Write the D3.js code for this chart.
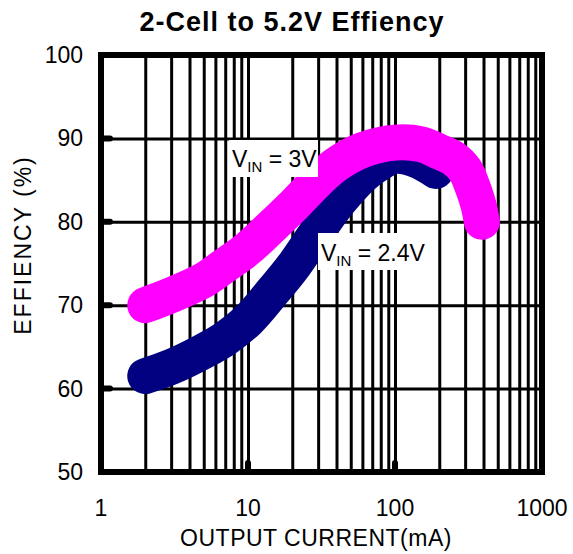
<!DOCTYPE html>
<html><head><meta charset="utf-8">
<script src="https://cdn.jsdelivr.net/npm/d3@7"></script>
<style>body{margin:0;background:#fff} svg{display:block}</style>
</head><body><svg id="c" width="573" height="554"></svg>
<script>
// ---- data ----
const xTicks = [1, 10, 100, 1000];
const yTicks = [50, 60, 70, 80, 90, 100];
const current3V = [2, 3, 5, 7, 10, 15, 20, 30, 40, 60, 100, 150, 200, 250, 300, 340, 370, 390];
const eff3V     = [70, 71.2, 73, 74.8, 76.8, 79.7, 81.8, 85, 86.9, 88.6, 89.5, 89.3, 88.4, 87.6, 86.2, 84, 82, 80];
const current24V = [2, 3, 5, 7, 10, 15, 20, 30, 42, 60, 75, 100, 140, 190];
const eff24V     = [61.5, 62.6, 64.5, 66, 68.2, 71.8, 74.5, 79, 82.5, 85.5, 86.8, 87.9, 87.4, 86.1];
const titleText = "2-Cell to 5.2V Effiency";
const xLabel = "OUTPUT CURRENT(mA)";
const yLabel = "EFFIENCY (%)";

const svg = d3.select("#c");
const L = 101, R = 542, T = 55, B = 472;
const x = d3.scaleLog().domain([1, 1000]).range([L, R]);
const y = d3.scaleLinear().domain([50, 100]).range([B, T]);
const font = "'Liberation Sans', Arial, Helvetica, sans-serif";

// grid (vertical minor log lines)
const gx = svg.append("g").attr("transform", `translate(0,${B})`)
  .call(d3.axisBottom(x).tickValues(x.ticks().filter(v => v > 1 && v < 1000))
    .tickSize(-(B - T)).tickFormat(""));
gx.select(".domain").remove();
gx.selectAll("line").attr("stroke", "#000").attr("stroke-width", 3);

const gy = svg.append("g").attr("transform", `translate(${L},0)`)
  .call(d3.axisLeft(y).tickValues(yTicks.filter(v => v > 50 && v < 100))
    .tickSize(-(R - L)).tickFormat(""));
gy.select(".domain").remove();
gy.selectAll("line").attr("stroke", "#000").attr("stroke-width", 3);

// inner tick stubs
svg.append("g").selectAll("line").data(yTicks.filter(v => v > 50 && v < 100)).join("line")
  .attr("x1", L).attr("x2", L + 9).attr("y1", d => y(d)).attr("y2", d => y(d))
  .attr("stroke", "#000").attr("stroke-width", 6).attr("stroke-linecap", "round");
svg.append("g").selectAll("line").data(xTicks.filter(v => v > 1 && v < 1000)).join("line")
  .attr("x1", d => x(d)).attr("x2", d => x(d)).attr("y1", B).attr("y2", B - 9)
  .attr("stroke", "#000").attr("stroke-width", 6).attr("stroke-linecap", "round");

// frame
svg.append("rect").attr("x", L).attr("y", T).attr("width", R - L).attr("height", B - T)
  .attr("fill", "none").attr("stroke", "#000").attr("stroke-width", 6);

// curves
const line = d3.line().x(d => x(d[0])).y(d => y(d[1])).curve(d3.curveCatmullRom.alpha(0.5));
svg.append("path").datum(current24V.map((c, i) => [c, eff24V[i]]))
  .attr("d", line).attr("fill", "none").attr("stroke", "#000080")
  .attr("stroke-width", 36).attr("stroke-linecap", "round").attr("stroke-linejoin", "round");
svg.append("path").datum(current3V.map((c, i) => [c, eff3V[i]]))
  .attr("d", line).attr("fill", "none").attr("stroke", "#FF00FF")
  .attr("stroke-width", 36).attr("stroke-linecap", "round").attr("stroke-linejoin", "round");

// series labels
function vlabel(bx, by, bw, bh, tx, ty, rest) {
  svg.append("rect").attr("x", bx).attr("y", by).attr("width", bw).attr("height", bh).attr("fill", "#fff");
  const t = svg.append("text").attr("x", tx).attr("y", ty)
    .attr("font-family", font).attr("font-size", 23).attr("fill", "#000");
  t.append("tspan").text("V");
  t.append("tspan").attr("font-size", 15).attr("dy", 5).text("IN");
  t.append("tspan").attr("dy", -5).text(" = " + rest);
}
vlabel(229, 140, 89, 37, 232, 167, "3V");
vlabel(318, 233, 112, 37, 321, 261, "2.4V");

// tick labels
svg.append("g").selectAll("text").data(yTicks).join("text")
  .attr("x", 83).attr("y", d => y(d)).attr("dy", "0.35em").attr("text-anchor", "end")
  .attr("font-family", font).attr("font-size", 23).text(d => d);
svg.append("g").selectAll("text").data(xTicks).join("text")
  .attr("x", d => x(d)).attr("y", 516).attr("text-anchor", "middle")
  .attr("font-family", font).attr("font-size", 23).text(d => d);

// axis titles
svg.append("text").attr("x", 316).attr("y", 546).attr("text-anchor", "middle")
  .attr("font-family", font).attr("font-size", 23).attr("letter-spacing", 0.5).text(xLabel);
svg.append("text").attr("transform", "translate(31,245) rotate(-90)").attr("text-anchor", "middle")
  .attr("font-family", font).attr("font-size", 23).attr("letter-spacing", 2).text(yLabel);

// chart title
svg.append("text").attr("x", 292).attr("y", 31).attr("text-anchor", "middle")
  .attr("font-family", font).attr("font-size", 27).attr("font-weight", "bold")
  .attr("letter-spacing", 1).text(titleText);
</script></body></html>
